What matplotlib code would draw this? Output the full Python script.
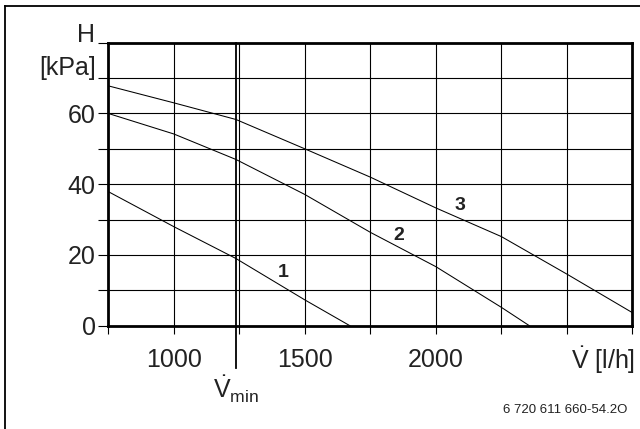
import matplotlib
matplotlib.use("Agg")
import matplotlib.pyplot as plt
from matplotlib.lines import Line2D

plt.rcParams['font.family'] = ['Liberation Sans', 'DejaVu Sans']
plt.rcParams['mathtext.fontset'] = 'custom'
plt.rcParams['mathtext.rm'] = 'Liberation Sans'
plt.rcParams['mathtext.it'] = 'Liberation Sans'

# Pump characteristic curves: volume flow [l/h] vs. residual head [kPa]
flow_1 = [750, 1000, 1237, 1500, 1672]
head_1 = [37.9, 28.0, 19.0, 7.3, 0.0]

flow_2 = [750, 1000, 1237, 1500, 1750, 2000, 2250, 2357]
head_2 = [60.0, 54.2, 47.0, 37.1, 26.4, 16.7, 5.2, 0.0]

flow_3 = [750, 1000, 1237, 1500, 1750, 2000, 2250, 2500, 2750]
head_3 = [67.8, 63.0, 58.3, 50.0, 42.0, 33.3, 25.2, 14.6, 3.7]

curve_names = ['1', '2', '3']
label_pos = [(1418, 15.0), (1857, 25.6), (2092, 34.1)]

v_min = 1237
x_ticks = [750, 1000, 1250, 1500, 1750, 2000, 2250, 2500, 2750]
x_labels = ['', '1000', '', '1500', '', '2000', '', '', '']
y_ticks = [0, 10, 20, 30, 40, 50, 60, 70, 80]
y_labels = ['0', '', '20', '', '40', '', '60', '', '']

W, H = 640, 429
fig = plt.figure(figsize=(W / 100, H / 100), dpi=100)
ax = fig.add_axes([108.3 / W, 1 - 325.7 / H, 524 / W, 283 / H])

ax.set_xlim(750, 2750)
ax.set_ylim(0, 80)

# grid
for xv in x_ticks[1:-1]:
    ax.axvline(xv, color='black', lw=0.8, zorder=1)
for yv in y_ticks[1:-1]:
    ax.axhline(yv, color='black', lw=0.8, zorder=1)

# minimum flow marker, extending below the axis
ax.plot([v_min, v_min], [-12, 80], color='black', lw=1.3, clip_on=False, zorder=3)

for fl, hd in [(flow_1, head_1), (flow_2, head_2), (flow_3, head_3)]:
    ax.plot(fl, hd, color='black', lw=0.75, zorder=2)

for name, (lx, ly) in zip(curve_names, label_pos):
    ax.text(lx, ly, name, fontsize=14, fontweight='bold', ha='center', va='center',
            color='#222222', zorder=4)

for s in ax.spines.values():
    s.set_linewidth(2.0)
    s.set_color('black')

ax.set_xticks(x_ticks)
ax.set_xticklabels(x_labels)
ax.set_yticks(y_ticks)
ax.set_yticklabels(y_labels)
ax.tick_params(axis='x', direction='out', length=6, width=0.8, pad=10, labelsize=18,
               colors='black', labelcolor='#222222')
ax.tick_params(axis='y', direction='out', length=7, width=0.8, pad=2, labelsize=18,
               colors='black', labelcolor='#222222')

# axis titles
fig.text(95 / W, 1 - 41.5 / H, 'H', fontsize=18, ha='right', va='baseline', color='#222222')
fig.text(96 / W, 1 - 75 / H, '[kPa]', fontsize=18, ha='right', va='baseline', color='#222222')
fig.text(635 / W, 1 - 369 / H, r'$\dot{\mathrm{V}}$ [l/h]', fontsize=18, ha='right',
         va='baseline', color='#222222')
fig.text(236 / W, 1 - 399 / H, r'$\dot{\mathrm{V}}_{\mathrm{min}}$', fontsize=18, ha='center',
         va='baseline', color='#222222')
fig.text(627 / W, 1 - 413 / H, '6 720 611 660-54.2O', fontsize=9.5, ha='right',
         va='baseline', color='#222222')

# outer frame (top and left edges)
fig.add_artist(Line2D([5 / W, 1.0], [1 - 5.7 / H, 1 - 5.7 / H], transform=fig.transFigure,
                      color='black', lw=1.3))
fig.add_artist(Line2D([5 / W, 5 / W], [0.0, 1 - 5.7 / H], transform=fig.transFigure,
                      color='black', lw=1.3))

fig.savefig('out.png', dpi=100)
